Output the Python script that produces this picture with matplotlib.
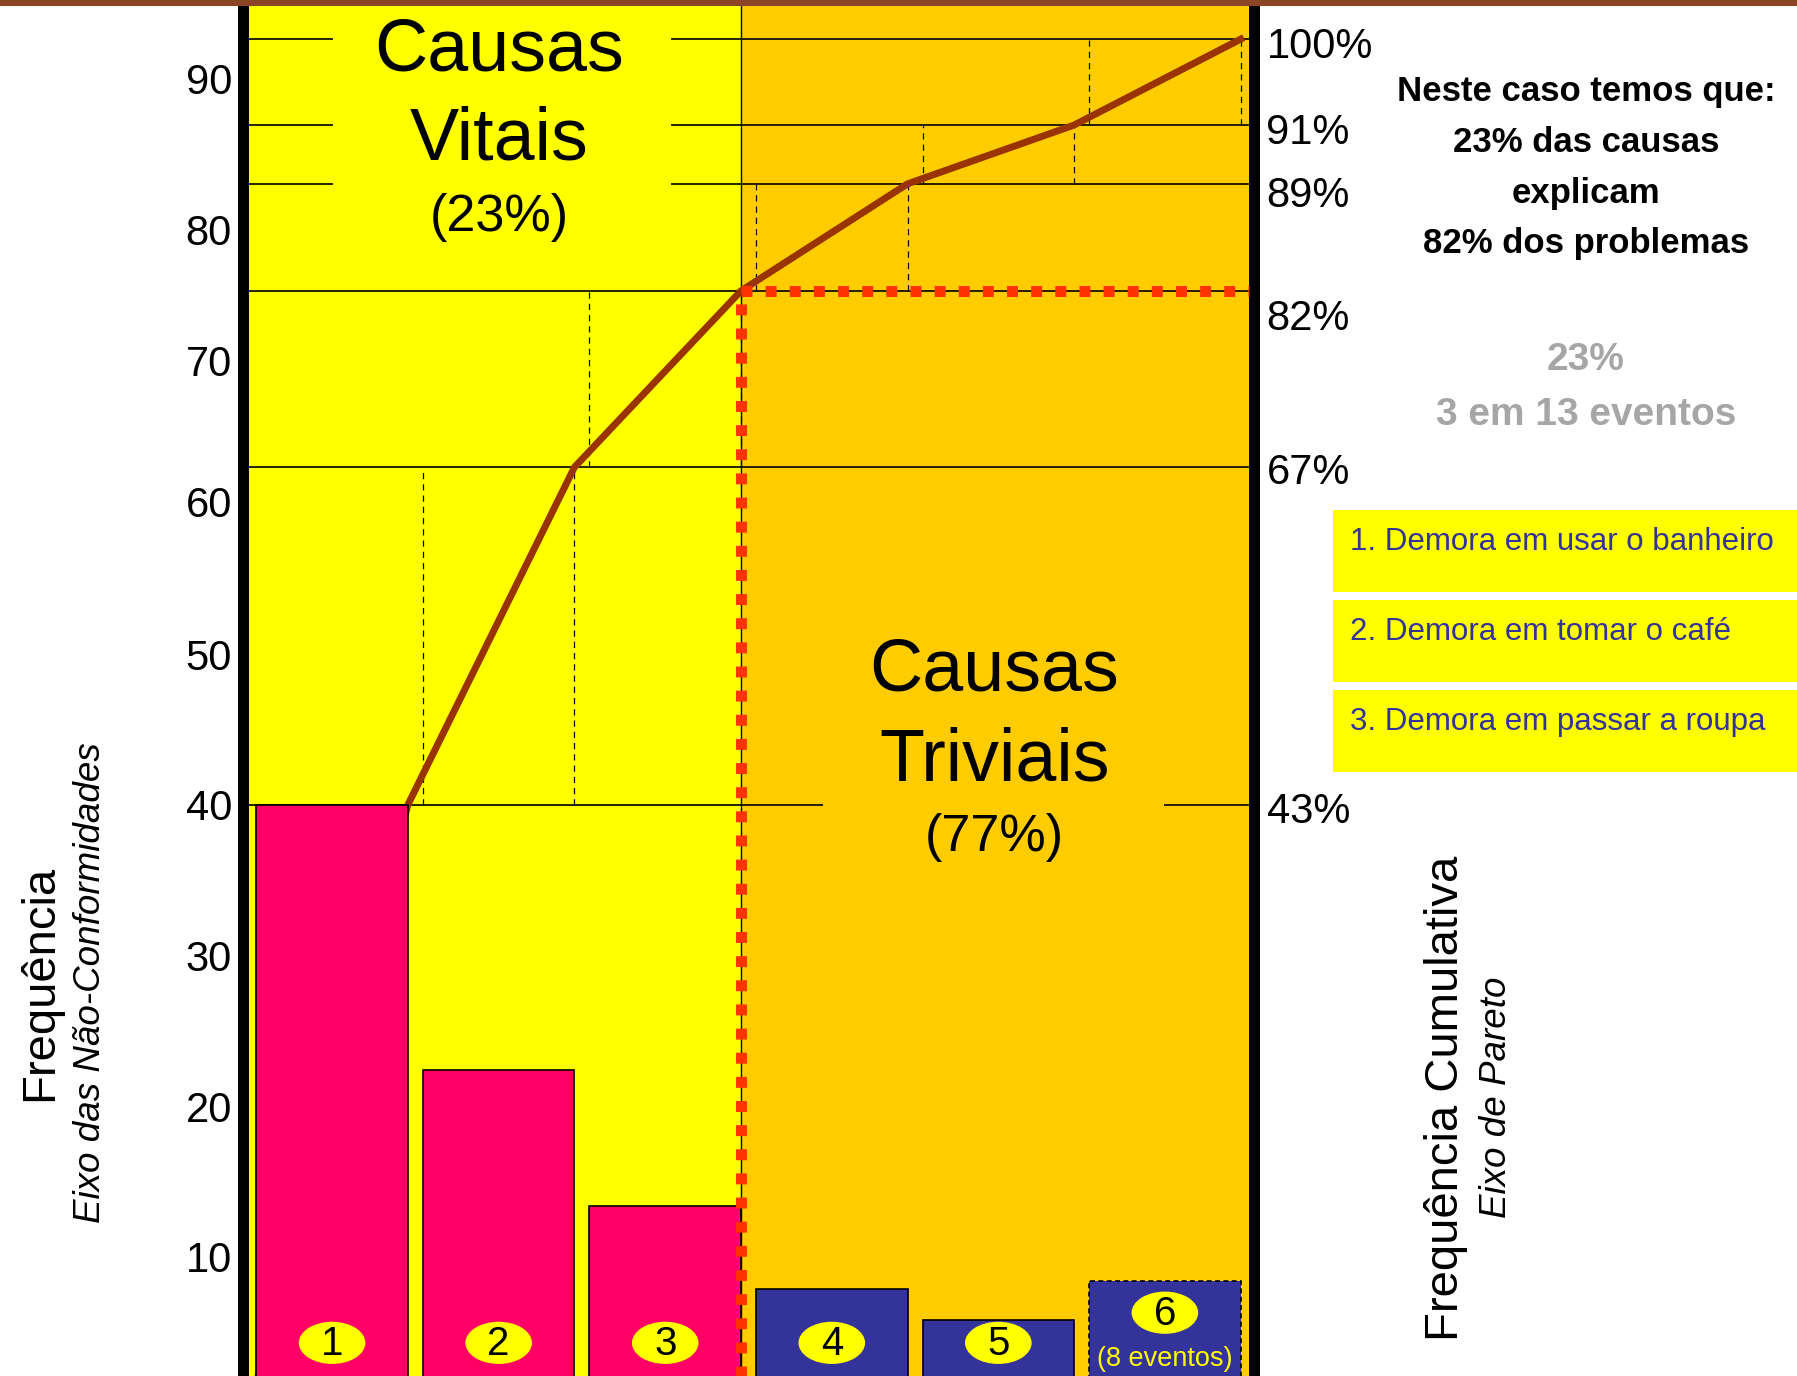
import numpy as np
import matplotlib
matplotlib.use("Agg")
import matplotlib.pyplot as plt
from matplotlib.patches import Rectangle, Ellipse

plt.rcParams['font.family'] = ['Liberation Sans', 'DejaVu Sans']

# --- data ---
causes = ["1", "2", "3", "4", "5", "6"]
freq = [40, 22.4, 13.4, 7.9, 5.8, 8.4]
cum_level = [40, 62.4, 74.1, 81.2, 85.1, 90.8]          # cumulative curve, left-axis units
pct_labels = ["43%", "67%", "82%", "89%", "91%", "100%"]
pct_label_pos = [39.8, 62.3, 72.5, 80.7, 84.9, 90.6]
left_ticks = [10, 20, 30, 40, 50, 60.1, 69.5, 78.2, 88.2]
left_labels = ["10", "20", "30", "40", "50", "60", "70", "80", "90"]
vital_items = ["1. Demora em usar o banheiro",
               "2. Demora em tomar o café",
               "3. Demora em passar a roupa"]
n_vital = 3

W, H = 1797, 1376
fig = plt.figure(figsize=(W / 100, H / 100), dpi=100)
fig.patch.set_facecolor("white")


def fx(x):
    return x / W


def fy(y):
    return 1 - y / H


ax = fig.add_axes([fx(243), 0, (1254 - 243) / W, (H - 6) / H])
ax.set_xlim(-0.04, 6.03)
ax.set_ylim(2.1, 93.0)

split = 2.95
ax.axvspan(-0.04, split, color="#FFFF00", zorder=0)
ax.axvspan(split, 6.03, color="#FFCC00", zorder=0)

# grid at cumulative levels
for lv in cum_level:
    ax.axhline(lv, color="black", lw=1.2, zorder=1)
ax.axvline(split, color="black", lw=1.0, zorder=1)

# bars
bar_left = np.arange(len(freq)) + 0.04
bar_w = 0.91
colors = ["#FF0066"] * n_vital + ["#333399"] * (len(freq) - n_vital)
bars = ax.bar(bar_left, freq, width=bar_w, align="edge", color=colors,
              edgecolor="black", linewidth=1.2, zorder=4)
bars[-1].set_linestyle((0, (3, 2)))

# dashed drop lines between cumulative levels
bar_right = bar_left + bar_w
for i in range(1, len(freq)):
    for xe in (bar_left[i], bar_right[i]):
        ax.plot([xe, xe], [cum_level[i - 1], cum_level[i]], color="black",
                lw=0.9, ls=(0, (5, 4)), zorder=2)

# cumulative curve
ax.plot(np.r_[0, bar_right], np.r_[0, cum_level], color="#993300", lw=5,
        solid_joinstyle="round", zorder=3)

# 80/20 cut
ax.plot([split, 6.0], [cum_level[n_vital - 1]] * 2, color="#FF3300", lw=7.9,
        ls=(0, (1.0, 1.2)), zorder=6)
ax.plot([split, split], [0, cum_level[n_vital - 1]], color="#FF3300", lw=7.9,
        ls=(0, (1.0, 1.2)), zorder=6)

# numbered ellipses
for i, lab in enumerate(causes):
    cx = bar_left[i] + bar_w / 2
    cy = 6.3 if i == len(causes) - 1 else 4.3
    ax.add_patch(Ellipse((cx, cy), 0.40, 2.8, facecolor="#FFFF00",
                         edgecolor="none", zorder=7))
    ax.text(cx, cy - 0.1, lab, ha="center", va="center", fontsize=29, zorder=8)
ax.text(bar_left[-1] + bar_w / 2, 3.2, "(8 eventos)", ha="center", va="center",
        fontsize=19.5, color="#FFFF00", zorder=8)

# region titles
ax.add_patch(Rectangle((0.50, 77), 2.03, 16.5, facecolor="#FFFF00",
                       edgecolor="none", zorder=5))
ax.text(1.5, 90.0, "Causas", ha="center", va="center", fontsize=53, zorder=6)
ax.text(1.5, 84.1, "Vitais", ha="center", va="center", fontsize=53, zorder=6)
ax.text(1.5, 79.0, "(23%)", ha="center", va="center", fontsize=37.5, zorder=6)

ax.add_patch(Rectangle((3.44, 36), 2.05, 8, facecolor="#FFCC00",
                       edgecolor="none", zorder=5))
ax.text(4.47, 48.9, "Causas", ha="center", va="center", fontsize=53, zorder=6)
ax.text(4.47, 42.9, "Triviais", ha="center", va="center", fontsize=53, zorder=6)
ax.text(4.47, 37.8, "(77%)", ha="center", va="center", fontsize=37.5, zorder=6)

# axes styling
for s in ("top", "bottom"):
    ax.spines[s].set_visible(False)
ax.spines["left"].set_linewidth(7.9)
ax.spines["right"].set_linewidth(7.9)
ax.set_xticks([])
ax.set_yticks(left_ticks, left_labels, fontsize=30)
ax.tick_params(axis="y", length=0, pad=8)

ax2 = ax.twinx()
ax2.set_ylim(ax.get_ylim())
for s in ax2.spines.values():
    s.set_visible(False)
ax2.set_yticks(pct_label_pos, pct_labels, fontsize=30)
ax2.tick_params(axis="y", length=0, pad=9)

# axis titles
fig.text(fx(40), fy(983), "Frequência", rotation=90, ha="center", va="center",
         fontsize=34)
fig.text(fx(91), fy(983), "Eixo das Não-Conformidades", rotation=90,
         ha="center", va="center", fontsize=26.5, style="italic")
fig.text(fx(1446), fy(1098), "Frequência Cumulativa", rotation=90,
         ha="center", va="center", fontsize=34)
fig.text(fx(1497), fy(1097), "Eixo de Pareto", rotation=90, ha="center",
         va="center", fontsize=26.5, style="italic")

# side notes
note = ["Neste caso temos que:", "23% das causas", "explicam", "82% dos problemas"]
for k, line in enumerate(note):
    fig.text(fx(1586), fy(91 + 51 * k), line, ha="center", va="center",
             fontsize=25, fontweight="bold")
fig.text(fx(1586), fy(360), "23%", ha="center", va="center", fontsize=28,
         fontweight="bold", color="#A6A6A6")
fig.text(fx(1586), fy(415), "3 em 13 eventos", ha="center", va="center",
         fontsize=28, fontweight="bold", color="#A6A6A6")

box_top = [510, 600, 690]
for top, item in zip(box_top, vital_items):
    fig.patches.append(Rectangle((fx(1333), fy(top + 82)), (W - 1333) / W,
                                 82 / H, transform=fig.transFigure,
                                 facecolor="#FFFF00", edgecolor="none"))
    fig.text(fx(1350), fy(top + 32), item, ha="left", va="center",
             fontsize=22.5, color="#333399")

# brown top border
fig.patches.append(Rectangle((0, fy(6)), 1, 6 / H, transform=fig.transFigure,
                             facecolor="#8C4426", edgecolor="none", zorder=10))

fig.savefig("out.png", dpi=100)
